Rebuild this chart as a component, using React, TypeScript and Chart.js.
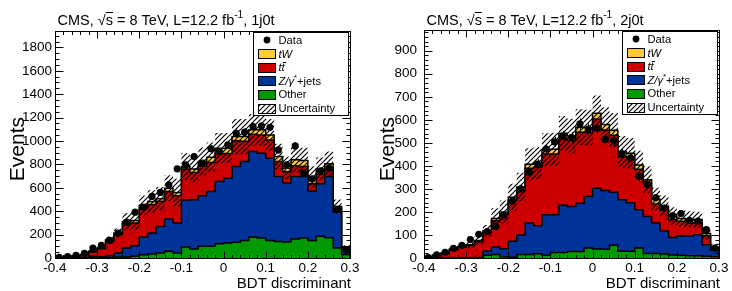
import React, { useEffect, useRef } from 'react';
import { Chart, registerables } from 'chart.js';

Chart.register(...registerables);

// ---------------- data ----------------
const binLowEdges = [
  -0.40, -0.38, -0.36, -0.34, -0.32, -0.30, -0.28, -0.26, -0.24, -0.22,
  -0.20, -0.18, -0.16, -0.14, -0.12, -0.10, -0.08, -0.06, -0.04, -0.02,
  0.00, 0.02, 0.04, 0.06, 0.08, 0.10, 0.12, 0.14, 0.16, 0.18,
  0.20, 0.22, 0.24, 0.26, 0.28,
];
const binWidth = 0.02;
const xTicks = [-0.4, -0.3, -0.2, -0.1, 0, 0.1, 0.2, 0.3];

// 1j0t
const yTicks1j0t = [0, 200, 400, 600, 800, 1000, 1200, 1400, 1600, 1800];
const data1j0t = [5, 12, 22, 40, 85, 108, 150, 213, 307, 392, 435, 526, 560, 625, 762, 796, 867, 810, 933, 910, 967, 1066, 1075, 1123, 1129, 1117, 924, 796, 958, 725, 677, 745, 768, 415, 70];
const other1j0t = [0, 0, 1, 1, 2, 2, 3, 8, 8, 14, 28, 34, 43, 57, 43, 94, 77, 100, 100, 122, 128, 134, 150, 179, 170, 150, 142, 136, 162, 170, 150, 185, 173, 85, 30];
const zjets1j0t = [1, 2, 2, 3, 12, 8, 17, 35, 77, 91, 152, 179, 227, 276, 256, 401, 421, 432, 469, 532, 554, 648, 675, 731, 726, 703, 555, 504, 535, 527, 422, 450, 524, 305, 58];
const ttbar1j0t = [3, 7, 14, 22, 38, 70, 128, 160, 210, 195, 248, 245, 216, 236, 233, 265, 233, 253, 248, 239, 211, 221, 173, 147, 156, 156, 128, 98, 92, 86, 63, 80, 58, 36, 4];
const tw1j0t = [1, 2, 3, 3, 5, 6, 8, 10, 18, 20, 22, 25, 20, 28, 28, 22, 29, 40, 45, 45, 45, 35, 40, 38, 43, 43, 42, 30, 50, 50, 55, 45, 50, 15, 3];
const unc1j0t = [2, 3, 5, 7, 12, 16, 28, 40, 72, 75, 85, 95, 100, 110, 120, 115, 115, 120, 125, 130, 130, 150, 150, 135, 135, 135, 110, 100, 110, 110, 95, 100, 105, 60, 15];

// 2j0t
const yTicks2j0t = [0, 100, 200, 300, 400, 500, 600, 700, 800, 900];
const data2j0t = [2, 14, 25, 42, 55, 80, 103, 115, 137, 186, 248, 300, 372, 408, 473, 504, 530, 524, 582, 560, 563, 515, 510, 452, 435, 354, 320, 262, 217, 184, 193, 164, 160, 123, 43];
const other2j0t = [0, 0, 0, 0, 0, 0, 1, 12, 15, 5, 3, 15, 15, 18, 12, 24, 24, 28, 28, 43, 39, 38, 55, 29, 29, 43, 19, 19, 17, 13, 12, 10, 10, 8, 5];
const zjets2j0t = [0, 0, 0, 1, 1, 1, 1, 18, 33, 35, 70, 85, 137, 122, 176, 164, 206, 196, 210, 224, 264, 255, 231, 224, 211, 166, 161, 133, 100, 76, 83, 86, 91, 50, 29];
const ttbar2j0t = [2, 11, 20, 35, 46, 53, 70, 82, 114, 150, 177, 192, 238, 255, 264, 264, 290, 286, 308, 278, 301, 263, 247, 187, 195, 176, 145, 83, 95, 78, 65, 58, 51, 39, 11];
const tw2j0t = [1, 2, 2, 3, 3, 3, 4, 6, 9, 10, 14, 16, 17, 17, 18, 20, 22, 20, 22, 21, 24, 24, 22, 22, 20, 19, 15, 20, 14, 15, 12, 14, 14, 9, 3];
const unc2j0t = [1, 4, 6, 9, 11, 13, 17, 25, 45, 50, 58, 62, 70, 70, 72, 72, 75, 75, 78, 78, 78, 75, 75, 68, 66, 62, 58, 50, 45, 38, 36, 35, 35, 28, 14];

// ---------------- style ----------------
const FONT = '"Liberation Sans", Arial, Helvetica, sans-serif';
const colTW = '#FFCC33';
const colTT = '#CC0000';
const colZ = '#003399';
const colOther = '#009900';

type Seg = { t: string; it?: boolean; sup?: boolean; over?: boolean };

function drawRich(ctx: CanvasRenderingContext2D, segs: Seg[], x: number, y: number, size: number) {
  let cx = x;
  ctx.textAlign = 'left';
  ctx.textBaseline = 'alphabetic';
  for (const s of segs) {
    const sz = s.sup ? size * 0.7 : size;
    ctx.font = `${s.it ? 'italic ' : ''}${sz}px ${FONT}`;
    const dy = s.sup ? -size * 0.42 : 0;
    ctx.fillText(s.t, cx, y + dy);
    const w = ctx.measureText(s.t).width;
    if (s.over) {
      const off = s.it ? 1.2 : 0;
      ctx.beginPath();
      ctx.lineWidth = 1;
      ctx.strokeStyle = '#000';
      const oy = Math.round(y - size * 0.84) + 0.5;
      ctx.moveTo(cx + off, oy);
      ctx.lineTo(cx + w + off, oy);
      ctx.stroke();
    }
    cx += w;
  }
  return cx - x;
}

function makeHatch(): CanvasPattern | string {
  const s = 5;
  const c = document.createElement('canvas');
  c.width = s;
  c.height = s;
  const g = c.getContext('2d');
  if (!g) return 'rgba(0,0,0,0.3)';
  g.strokeStyle = '#000';
  g.lineWidth = 1.2;
  g.beginPath();
  g.moveTo(0, s);
  g.lineTo(s, 0);
  g.moveTo(-1, 1);
  g.lineTo(1, -1);
  g.moveTo(s - 1, s + 1);
  g.lineTo(s + 1, s - 1);
  g.stroke();
  const p = g.createPattern(c, 'repeat');
  return p || 'rgba(0,0,0,0.3)';
}

type PanelCfg = {
  tag: string;
  data: number[];
  other: number[];
  zjets: number[];
  ttbar: number[];
  tw: number[];
  unc: number[];
  yTicks: number[];
  yMax: number;
  yMinor: number;
  yMajor: number;
  padRight: number;
  padTop: number;
  yAxisW: number;
  yLabelPad: number;
  eventsX: number;
};

const panels: PanelCfg[] = [
  {
    tag: '1j0t', data: data1j0t, other: other1j0t, zjets: zjets1j0t, ttbar: ttbar1j0t, tw: tw1j0t, unc: unc1j0t,
    yTicks: yTicks1j0t, yMax: 1940, yMinor: 50, yMajor: 200,
    padRight: 16, padTop: 31, yAxisW: 55, yLabelPad: 3, eventsX: 24,
  },
  {
    tag: '2j0t', data: data2j0t, other: other2j0t, zjets: zjets2j0t, ttbar: ttbar2j0t, tw: tw2j0t, unc: unc2j0t,
    yTicks: yTicks2j0t, yMax: 990, yMinor: 20, yMajor: 100,
    padRight: 13, padTop: 30, yAxisW: 58, yLabelPad: 7, eventsX: 28,
  },
];

function Panel({ cfg }: { cfg: PanelCfg }) {
  const ref = useRef<HTMLCanvasElement>(null);
  useEffect(() => {
    const canvas = ref.current;
    if (!canvas) return;
    const hatch = makeHatch();
    const n = binLowEdges.length;
    const xMin = xTicks[0];
    const xMax = xTicks[xTicks.length - 1];
    const cum = (arrs: number[][]) => binLowEdges.map((_, i) => arrs.reduce((s, a) => s + a[i], 0));
    const sOther = cum([cfg.other]);
    const sZ = cum([cfg.other, cfg.zjets]);
    const sTT = cum([cfg.other, cfg.zjets, cfg.ttbar]);
    const sTot = cum([cfg.other, cfg.zjets, cfg.ttbar, cfg.tw]);
    const stepPts = (vals: number[], closed: boolean) => {
      const pts: { x: number; y: number }[] = [];
      if (closed) pts.push({ x: xMin, y: 0 });
      vals.forEach((v, i) => pts.push({ x: binLowEdges[i], y: v }));
      pts.push({ x: xMax, y: vals[n - 1] });
      if (closed) pts.push({ x: xMax, y: 0 });
      return pts;
    };
    const layer = (vals: number[], color: string) => ({
      type: 'line' as const,
      data: stepPts(vals, true),
      stepped: 'before' as const,
      borderColor: '#000',
      borderWidth: 1.5,
      backgroundColor: color,
      fill: 'origin' as const,
      pointRadius: 0,
      tension: 0,
    });
    const up = sTot.map((v, i) => v + cfg.unc[i]);
    const down = sTot.map((v, i) => Math.max(0, v - cfg.unc[i]));
    const dataPts = cfg.data.map((v, i) => ({ x: binLowEdges[i] + binWidth / 2, y: v }));

    const decor = {
      id: 'decor',
      afterDatasetsDraw(chart: any) {
        const ctx: CanvasRenderingContext2D = chart.ctx;
        const a = chart.chartArea;
        const xs = chart.scales.x;
        const ys = chart.scales.y;
        ctx.save();
        ctx.beginPath();
        ctx.rect(a.left, a.top, a.right - a.left, a.bottom - a.top);
        ctx.clip();
        ctx.strokeStyle = '#000';
        ctx.lineWidth = 1;
        cfg.data.forEach((v, i) => {
          const e = Math.sqrt(v);
          const px = Math.round(xs.getPixelForValue(binLowEdges[i] + binWidth / 2)) + 0.5;
          ctx.beginPath();
          ctx.moveTo(px, ys.getPixelForValue(v + e));
          ctx.lineTo(px, ys.getPixelForValue(Math.max(0, v - e)));
          ctx.stroke();
        });
        ctx.restore();
      },
      afterDraw(chart: any) {
        const ctx: CanvasRenderingContext2D = chart.ctx;
        const a = chart.chartArea;
        const xs = chart.scales.x;
        const ys = chart.scales.y;
        ctx.save();
        ctx.strokeStyle = '#000';
        ctx.fillStyle = '#000';
        ctx.lineWidth = 1;
        const L = Math.round(a.left) + 0.5;
        const R = Math.round(a.right) + 0.5;
        const T = Math.round(a.top) + 0.5;
        const B = Math.round(a.bottom) + 0.5;
        // ticks
        ctx.beginPath();
        const nx = Math.round((xMax - xMin) / binWidth);
        for (let k = 0; k <= nx; k++) {
          const px = Math.round(xs.getPixelForValue(xMin + k * binWidth)) + 0.5;
          const len = k % 5 === 0 ? 7 : 3.5;
          ctx.moveTo(px, B);
          ctx.lineTo(px, B - len);
          ctx.moveTo(px, T);
          ctx.lineTo(px, T + len);
        }
        for (let v = 0; v <= cfg.yMax; v += cfg.yMinor) {
          const py = Math.round(ys.getPixelForValue(v)) + 0.5;
          const len = v % cfg.yMajor === 0 ? 8 : 4;
          ctx.moveTo(L, py);
          ctx.lineTo(L + len, py);
          ctx.moveTo(R, py);
          ctx.lineTo(R - len, py);
        }
        ctx.stroke();
        // frame
        ctx.strokeRect(L, T, R - L, B - T);

        // legend
        const lx = Math.round(a.right - 97) + 0.5;
        const ly = Math.round(a.top + 1) + 0.5;
        const lw = 95;
        const lh = 83;
        ctx.fillStyle = '#fff';
        ctx.fillRect(lx, ly, lw, lh);
        ctx.strokeRect(lx, ly, lw, lh);
        const rowY = (k: number) => ly + 7.5 + k * 13.6;
        const boxX = lx + 5;
        const boxW = 17;
        const boxH = 9;
        const txtX = lx + 25;
        const fs = 11.2;
        // Data
        ctx.fillStyle = '#000';
        ctx.beginPath();
        ctx.arc(boxX + boxW / 2, rowY(0), 3.4, 0, Math.PI * 2);
        ctx.fill();
        const swatch = (k: number, fill: any) => {
          const yy = Math.round(rowY(k) - boxH / 2) + 0.5;
          ctx.fillStyle = fill;
          ctx.fillRect(boxX, yy, boxW, boxH);
          ctx.strokeStyle = '#000';
          ctx.lineWidth = 1;
          ctx.strokeRect(boxX, yy, boxW, boxH);
        };
        swatch(1, colTW);
        swatch(2, colTT);
        swatch(3, colZ);
        swatch(4, colOther);
        ctx.fillStyle = '#fff';
        ctx.fillRect(boxX, Math.round(rowY(5) - boxH / 2) + 0.5, boxW, boxH);
        swatch(5, hatch);
        ctx.fillStyle = '#000';
        const base = (k: number) => rowY(k) + fs * 0.36;
        drawRich(ctx, [{ t: 'Data' }], txtX, base(0), fs);
        drawRich(ctx, [{ t: 'tW', it: true }], txtX, base(1), fs);
        drawRich(ctx, [{ t: 't', it: true }, { t: 't', it: true, over: true }], txtX, base(2), fs);
        drawRich(ctx, [{ t: 'Z/γ', it: true }, { t: '*', sup: true }, { t: '+jets' }], txtX, base(3), fs);
        drawRich(ctx, [{ t: 'Other' }], txtX, base(4), fs);
        drawRich(ctx, [{ t: 'Uncertainty' }], txtX, base(5), fs);

        // title
        ctx.fillStyle = '#000';
        drawRich(
          ctx,
          [
            { t: 'CMS, √' },
            { t: 's', over: true },
            { t: ' = 8 TeV, L=12.2 fb' },
            { t: '-1', sup: true },
            { t: ', ' + cfg.tag },
          ],
          a.left + 2.5,
          24.5,
          14.5,
        );

        // axis titles
        ctx.font = `15px ${FONT}`;
        ctx.textAlign = 'right';
        ctx.textBaseline = 'alphabetic';
        ctx.fillText('BDT discriminant', a.right + 1, 288);

        ctx.save();
        ctx.translate(cfg.eventsX, 117);
        ctx.rotate(-Math.PI / 2);
        ctx.font = `21px ${FONT}`;
        ctx.textAlign = 'right';
        ctx.textBaseline = 'alphabetic';
        ctx.fillText('Events', 0, 0);
        ctx.restore();

        ctx.restore();
      },
    };

    const chart = new Chart(canvas, {
      type: 'line',
      data: {
        datasets: [
          {
            type: 'line',
            data: dataPts,
            showLine: false,
            pointRadius: 3.6,
            pointBackgroundColor: '#000',
            pointBorderColor: '#000',
            pointBorderWidth: 0,
            fill: false,
          },
          {
            type: 'line',
            data: stepPts(up, false),
            stepped: 'before',
            borderWidth: 0,
            borderColor: 'rgba(0,0,0,0)',
            backgroundColor: hatch as any,
            fill: '+1',
            pointRadius: 0,
          },
          {
            type: 'line',
            data: stepPts(down, false),
            stepped: 'before',
            borderWidth: 0,
            borderColor: 'rgba(0,0,0,0)',
            fill: false,
            pointRadius: 0,
          },
          layer(sOther, colOther),
          layer(sZ, colZ),
          layer(sTT, colTT),
          layer(sTot, colTW),
        ] as any,
      },
      options: {
        responsive: false,
        animation: false,
        events: [],
        layout: { padding: { left: 0, right: cfg.padRight, top: cfg.padTop, bottom: 0 } },
        plugins: {
          legend: { display: false },
          tooltip: { enabled: false },
          title: { display: false },
        },
        scales: {
          x: {
            type: 'linear',
            min: xMin,
            max: xMax,
            grid: { display: false, drawTicks: false },
            border: { display: false },
            ticks: {
              color: '#000',
              font: { size: 13.5, family: FONT },
              padding: 2,
              maxRotation: 0,
              autoSkip: false,
              callback: (v: any) => (Math.abs(Number(v)) < 1e-9 ? '0' : Number(v).toFixed(1)),
            },
            afterBuildTicks: (s: any) => {
              s.ticks = xTicks.map((v) => ({ value: v }));
            },
            afterFit: (s: any) => {
              s.height = 33;
            },
          },
          y: {
            type: 'linear',
            min: 0,
            max: cfg.yMax,
            grid: { display: false, drawTicks: false },
            border: { display: false },
            ticks: {
              color: '#000',
              font: { size: 13.5, family: FONT },
              padding: cfg.yLabelPad,
              autoSkip: false,
              callback: (v: any) => String(v),
            },
            afterBuildTicks: (s: any) => {
              s.ticks = cfg.yTicks.map((v) => ({ value: v }));
            },
            afterFit: (s: any) => {
              s.width = cfg.yAxisW;
            },
          },
        },
      } as any,
      plugins: [decor],
    });
    return () => chart.destroy();
  }, [cfg]);
  return <canvas ref={ref} width={366} height={291} style={{ display: 'block' }} />;
}

export default function App() {
  return (
    <div style={{ position: 'absolute', left: 0, top: 0, width: 732, height: 291, display: 'flex', background: '#fff' }}>
      <Panel cfg={panels[0]} />
      <Panel cfg={panels[1]} />
    </div>
  );
}
